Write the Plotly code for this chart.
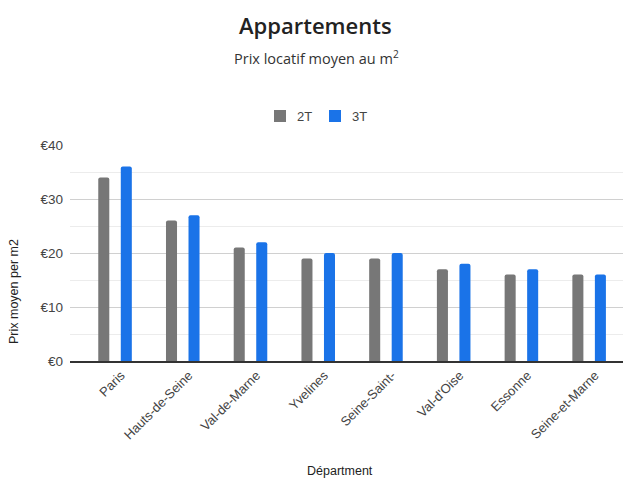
import plotly.graph_objects as go

departements = ["Paris", "Hauts-de-Seine", "Val-de-Marne", "Yvelines",
                "Seine-Saint-", "Val-d'Oise", "Essonne", "Seine-et-Marne"]
prix_2t = [34, 26, 21, 19, 19, 17, 16, 16]
prix_3t = [36, 27, 22, 20, 20, 18, 17, 16]
y_ticks = [0, 10, 20, 30, 40]
y_ticktext = ["€0", "€10", "€20", "€30", "€40"]
series_names = ["2T", "3T"]
series_colors = ["#777777", "#1a73e8"]

W, H = 625, 479
L, R, T, B = 70, 2, 145, 118
pw = W - L - R
ph = H - T - B
ARIAL = "Liberation Sans, Arial, sans-serif"

def py(px):
    return (H - B - px) / ph

def pxx(px):
    return (px - L) / pw

fig = go.Figure()
for name, vals, col in zip(series_names, [prix_2t, prix_3t], series_colors):
    fig.add_trace(go.Bar(name=name, x=departements, y=vals, marker_color=col,
                         marker_line_width=0, showlegend=False))

# manual legend (matches compact reference layout)
shapes = []
annotations = []
leg_x = [274, 329]
for lx, name, col in zip(leg_x, series_names, series_colors):
    shapes.append(dict(type="rect", xref="paper", yref="paper",
                       x0=pxx(lx), x1=pxx(lx + 12), y0=py(122), y1=py(110),
                       fillcolor=col, line_width=0))
    annotations.append(dict(text=name, x=pxx(lx + 21), xref="paper", xanchor="left",
                            y=py(116), yref="paper", yanchor="middle", showarrow=False,
                            font=dict(family=ARIAL, size=13, color="#444444")))

annotations += [
    dict(text="Appartements", x=pxx(315), xref="paper", xanchor="center",
         y=py(25), yref="paper", yanchor="middle", showarrow=False,
         font=dict(family="Open Sans, sans-serif", size=22, color="#222222", weight=600)),
    dict(text="Prix locatif moyen au m<sup>2</sup>", x=pxx(316), xref="paper", xanchor="center",
         y=py(57), yref="paper", yanchor="middle", showarrow=False,
         font=dict(family="Open Sans, sans-serif", size=14.5, color="#333333")),
    dict(text="Prix moyen per m2", textangle=-90, x=pxx(14), xref="paper",
         xanchor="center", y=py(292), yref="paper", yanchor="middle", showarrow=False,
         font=dict(family=ARIAL, size=12.5, color="#222222")),
    dict(text="Départment", x=pxx(340), xref="paper", xanchor="center",
         y=py(471), yref="paper", yanchor="middle", showarrow=False,
         font=dict(family=ARIAL, size=12.5, color="#222222")),
]

fig.update_layout(
    width=W, height=H,
    margin=dict(l=L, r=R, t=T, b=B),
    paper_bgcolor="white", plot_bgcolor="white",
    barmode="group", bargap=0.335, bargroupgap=0.51, barcornerradius=2,
    font=dict(family=ARIAL, color="#444444", size=12),
    showlegend=False,
    xaxis=dict(type="category", range=[-0.665, 7.5], tickangle=-45,
               showline=True, linecolor="#333333", linewidth=1.5,
               ticks="", tickfont=dict(family=ARIAL, size=13, color="#444444"),
               ticklabelshift=6,
               showgrid=False, zeroline=False),
    yaxis=dict(range=[0, 40], tickvals=y_ticks, ticktext=y_ticktext,
               showgrid=True, gridcolor="#d0d0d0", gridwidth=1,
               minor=dict(dtick=5, tick0=0, showgrid=True, gridcolor="#ececec", gridwidth=1),
               zeroline=False, showline=False, ticks="",
               tickfont=dict(family=ARIAL, size=13.5, color="#444444"), ticklabelstandoff=6),
    shapes=shapes,
    annotations=annotations,
)

fig.write_html("out.html")
